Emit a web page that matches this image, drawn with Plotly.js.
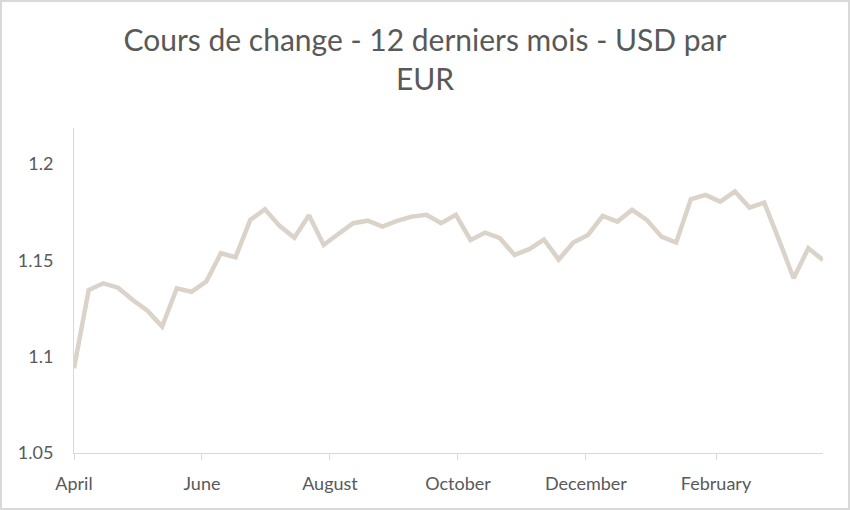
<!DOCTYPE html>
<html>
<head>
<meta charset="utf-8">
<script src="https://cdn.plot.ly/plotly-3.0.1.min.js"></script>
<style>
  html, body { margin: 0; padding: 0; background: #ffffff; }
  #wrap { position: relative; width: 850px; height: 510px; }
  #chart { position: absolute; left: 0; top: 0; width: 850px; height: 510px; }
  #frame { position: absolute; left: 0; top: 0; width: 850px; height: 510px; box-sizing: border-box; border: 2px solid #d9d9d9; pointer-events: none; }
</style>
</head>
<body>
<div id="wrap"><div id="chart"></div><div id="frame"></div></div>
<script>
const titleText = "Cours de change - 12 derniers mois - USD par<br>EUR";

const weekDates = [
  "2025-04-01","2025-04-08","2025-04-15","2025-04-22","2025-04-29",
  "2025-05-06","2025-05-13","2025-05-20","2025-05-27",
  "2025-06-03","2025-06-10","2025-06-17","2025-06-24",
  "2025-07-01","2025-07-08","2025-07-15","2025-07-22","2025-07-29",
  "2025-08-05","2025-08-12","2025-08-19","2025-08-26",
  "2025-09-02","2025-09-09","2025-09-16","2025-09-23","2025-09-30",
  "2025-10-07","2025-10-14","2025-10-21","2025-10-28",
  "2025-11-04","2025-11-11","2025-11-18","2025-11-25",
  "2025-12-02","2025-12-09","2025-12-16","2025-12-23","2025-12-30",
  "2026-01-06","2026-01-13","2026-01-20","2026-01-27",
  "2026-02-03","2026-02-10","2026-02-17","2026-02-24",
  "2026-03-03","2026-03-10","2026-03-17","2026-03-24"
];

const usdPerEur = [
  1.094, 1.1346, 1.1381, 1.1358, 1.1294,
  1.1239, 1.1156, 1.1355, 1.1337,
  1.1389, 1.1537, 1.1516, 1.1710,
  1.1765, 1.1679, 1.1618, 1.1734, 1.158,
  1.1637, 1.1693, 1.1706, 1.1675,
  1.1705, 1.1727, 1.1736, 1.1693, 1.1736,
  1.1606, 1.1644, 1.1615, 1.1528,
  1.1558, 1.1608, 1.1504, 1.1592,
  1.1632, 1.1731, 1.1701, 1.1762, 1.1710,
  1.1623, 1.1592, 1.1817, 1.1840,
  1.1805, 1.1857, 1.1774, 1.1800,
  1.1606, 1.1407, 1.1563, 1.1502
];

const xTickVals = ["2025-04-01","2025-06-01","2025-08-01","2025-10-01","2025-12-01","2026-02-01"];
const xTickText = ["April","June","August","October","December","February"];
const yTickVals = [1.05, 1.1, 1.15, 1.2];
const yTickText = ["1.05", "1.1", "1.15", "1.2"];

const fontFamily = "Lato, 'Open Sans', sans-serif";

const trace = {
  x: weekDates,
  y: usdPerEur,
  type: "scatter",
  mode: "lines",
  line: { color: "#dbd2ca", width: 4.5, shape: "linear" },
  hoverinfo: "x+y"
};

const layout = {
  width: 850,
  height: 510,
  margin: { l: 74, r: 27, t: 128, b: 57 },
  paper_bgcolor: "#ffffff",
  plot_bgcolor: "#ffffff",
  showlegend: false,
  font: { family: fontFamily, color: "#595959" },
  title: {
    text: titleText,
    font: { family: fontFamily, size: 30, color: "#595959" },
    x: 0.5, xanchor: "center",
    y: 0.9, yref: "container", yanchor: "top"
  },
  xaxis: {
    type: "date",
    range: [weekDates[0], weekDates[weekDates.length - 1]],
    tickmode: "array",
    tickvals: xTickVals,
    ticktext: xTickText,
    ticks: "outside",
    ticklen: 6,
    tickwidth: 1,
    tickcolor: "#d9d9d9",
    showgrid: false,
    zeroline: false,
    showline: true,
    linecolor: "#d9d9d9",
    linewidth: 1,
    tickfont: { family: fontFamily, size: 18, color: "#595959" },
    ticklabelstandoff: 8,
    fixedrange: true
  },
  yaxis: {
    range: [1.05, 1.2187],
    tickmode: "array",
    tickvals: yTickVals,
    ticktext: yTickText,
    ticks: "",
    showgrid: false,
    zeroline: false,
    showline: true,
    linecolor: "#d9d9d9",
    linewidth: 1,
    tickfont: { family: fontFamily, size: 18, color: "#595959" },
    ticklabelstandoff: 16,
    fixedrange: true
  }
};

Plotly.newPlot("chart", [trace], layout, { displayModeBar: false, staticPlot: true });
</script>
</body>
</html>
